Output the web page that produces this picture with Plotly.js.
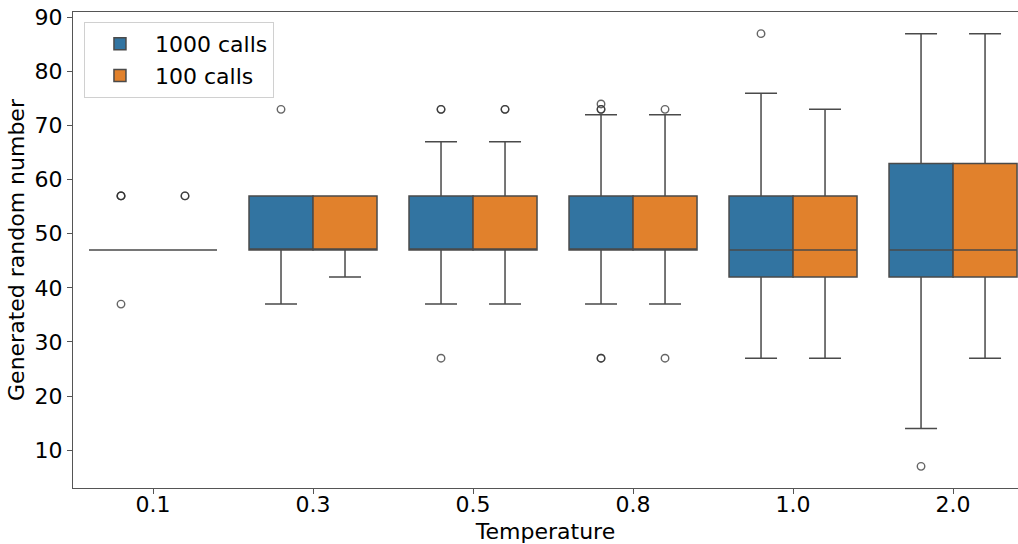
<!DOCTYPE html>
<html>
<head>
<meta charset="utf-8">
<script src="https://cdn.plot.ly/plotly-3.0.1.min.js"></script>
<style>html,body{margin:0;padding:0;background:#fff;}#chart{width:1018px;height:544px;}</style>
</head>
<body>
<div id="chart"></div>
<script>
// Categories
const temps = ['0.1', '0.3', '0.5', '0.8', '1.0', '2.0'];
const seriesNames = ['1000 calls', '100 calls'];

// 1000 calls box statistics
const q1_1000  = [47, 47, 47, 47, 42, 42];
const med_1000 = [47, 47, 47, 47, 47, 47];
const q3_1000  = [47, 57, 57, 57, 57, 63];
const lo_1000  = [47, 37, 37, 37, 27, 14];
const hi_1000  = [47, 57, 67, 72, 76, 87];

// 100 calls box statistics
const q1_100  = [47, 47, 47, 47, 42, 42];
const med_100 = [47, 47, 47, 47, 47, 47];
const q3_100  = [47, 57, 57, 57, 57, 63];
const lo_100  = [47, 42, 37, 37, 27, 27];
const hi_100  = [47, 57, 67, 72, 73, 87];

// Outliers (category index, value)
const out_1000_cat = [0, 0, 0, 0, 1, 2, 2, 2, 3, 3, 3, 3, 3, 4, 5];
const out_1000_val = [57, 57, 57, 37, 73, 73, 73, 27, 74, 73, 73, 27, 27, 87, 7];
const out_100_cat = [0, 0, 2, 2, 3, 3];
const out_100_val = [57, 57, 73, 73, 73, 27];

const colors = ['#3274a1', '#e1812c'];
const lineColor = '#4a4a4a';
const idx = temps.map((_, i) => i);

function boxTrace(name, color, q1, med, q3, lo, hi) {
  return {
    type: 'box', name: name, x: idx,
    q1: q1, median: med, q3: q3, lowerfence: lo, upperfence: hi,
    fillcolor: color, line: {color: lineColor, width: 1.5},
    whiskerwidth: 0.5, boxpoints: false, hoverinfo: 'skip'
  };
}
function outTrace(cats, vals, shift) {
  return {
    type: 'scatter', mode: 'markers', showlegend: false, hoverinfo: 'skip',
    x: cats.map(c => c + shift), y: vals,
    marker: {symbol: 'circle-open', size: 7.5, color: 'rgba(50,50,50,0.75)', line: {width: 1.4}}
  };
}

const data = [
  boxTrace(seriesNames[0], colors[0], q1_1000, med_1000, q3_1000, lo_1000, hi_1000),
  boxTrace(seriesNames[1], colors[1], q1_100, med_100, q3_100, lo_100, hi_100),
  outTrace(out_1000_cat, out_1000_val, -0.2),
  outTrace(out_100_cat, out_100_val, 0.2)
];

const font = {family: 'DejaVu Sans, sans-serif', size: 22, color: '#000'};
const layout = {
  width: 1018, height: 544,
  margin: {l: 73, r: 0, t: 12, b: 56},
  paper_bgcolor: '#fff', plot_bgcolor: '#fff',
  font: font,
  boxmode: 'group', boxgap: 0.2, boxgroupgap: 0,
  xaxis: {
    range: [-0.5, 5.406], tickmode: 'array', tickvals: idx, ticktext: temps,
    showgrid: false, zeroline: false, showline: true, mirror: true,
    linecolor: '#555', linewidth: 1.1, ticks: 'outside', ticklen: 5, tickcolor: '#555',
    tickfont: font, ticklabelstandoff: -9, automargin: false,
    title: {text: 'Temperature', font: font}
  },
  yaxis: {
    range: [3, 91], tickmode: 'array', tickvals: [10, 20, 30, 40, 50, 60, 70, 80, 90],
    showgrid: false, zeroline: false, showline: true, mirror: false,
    linecolor: '#555', linewidth: 1.1, ticks: 'outside', ticklen: 5, tickcolor: '#555',
    tickfont: font, automargin: true,
    title: {text: 'Generated random number', font: font, standoff: 3}
  },
  legend: {
    x: 0.0116, y: 0.979, xanchor: 'left', yanchor: 'top',
    bgcolor: 'rgba(255,255,255,0.8)', bordercolor: '#d0d0d0', borderwidth: 1,
    font: font, tracegroupgap: 0, itemwidth: 60
  },
  showlegend: true
};

Plotly.newPlot('chart', data, layout, {displayModeBar: false, staticPlot: true});
</script>
</body>
</html>
